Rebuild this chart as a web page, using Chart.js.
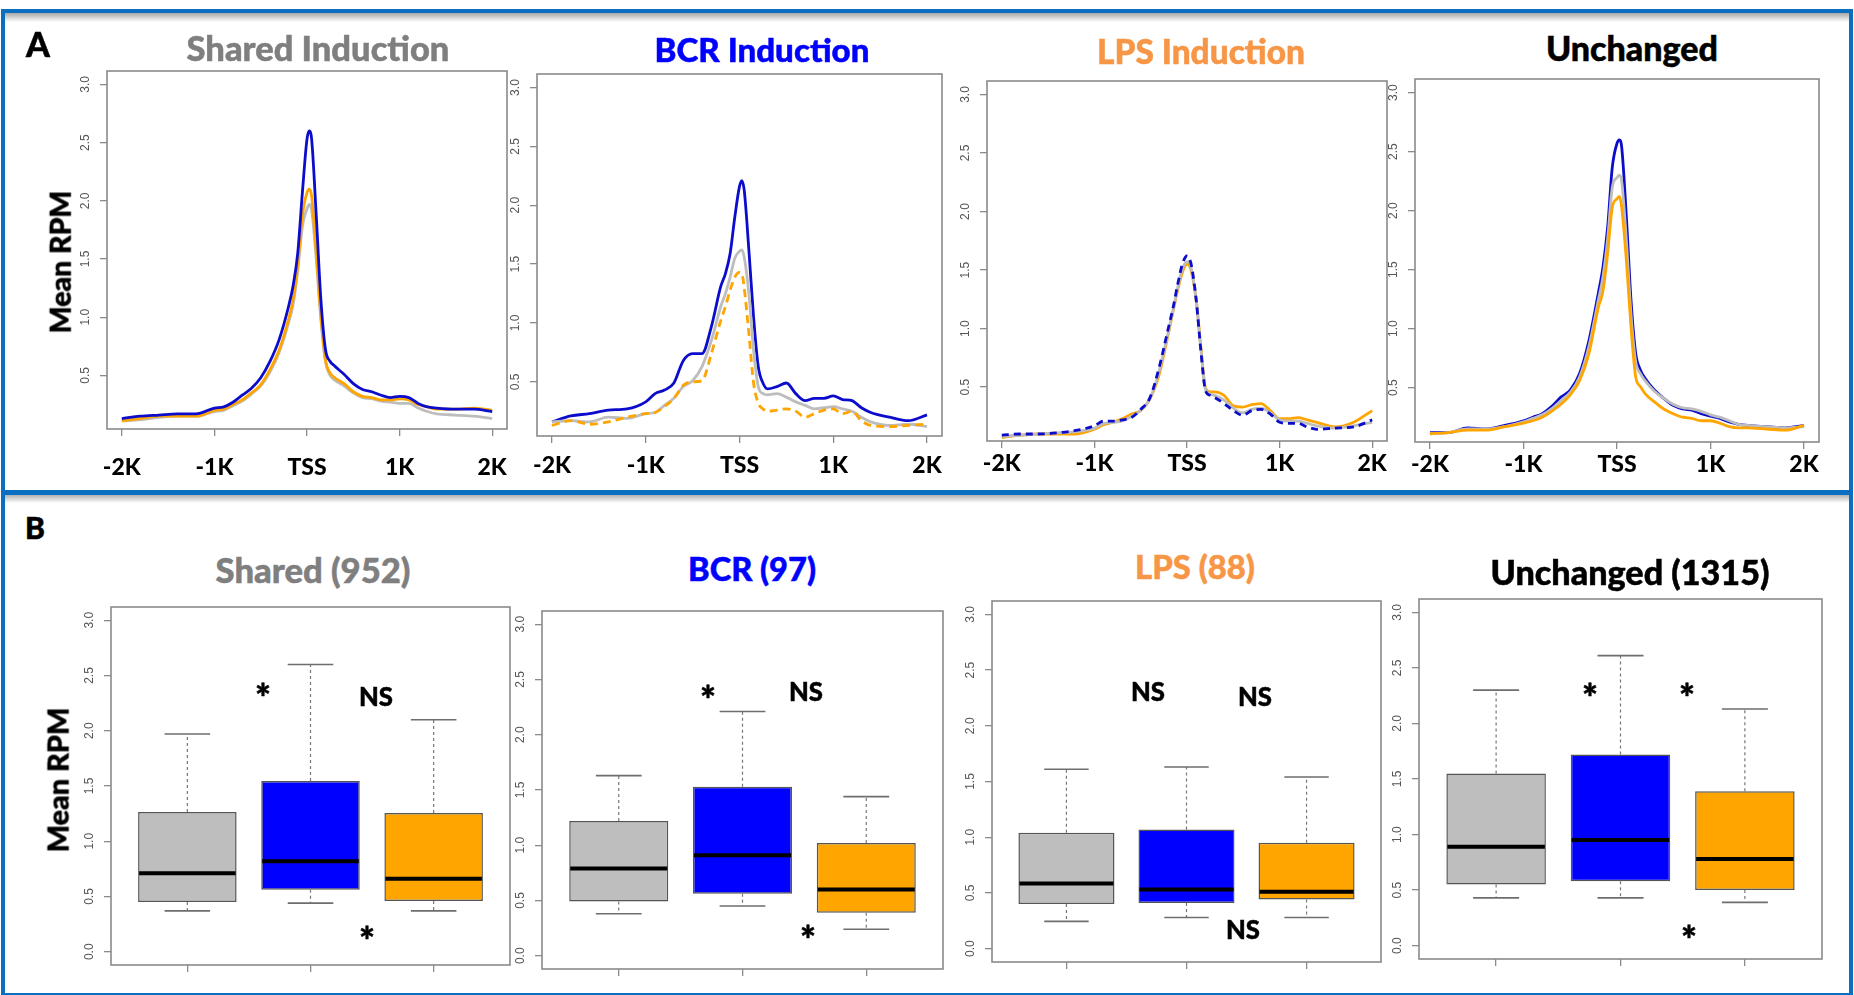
<!DOCTYPE html>
<html><head><meta charset="utf-8">
<script src="https://cdn.jsdelivr.net/npm/chart.js@4"></script>
<style>
body{margin:0;width:1854px;height:995px;background:#fff;overflow:hidden;position:relative;font-family:Lato,sans-serif}
.frame{position:absolute;box-sizing:border-box;border:4px solid #0B6FC1}
.shadow{position:absolute;height:9px;background:linear-gradient(#a8a8a8,rgba(255,255,255,0))}
.t{position:absolute;font-weight:900;white-space:nowrap;line-height:1;transform:translate(-50%,-50%);font-family:Lato,sans-serif;-webkit-text-stroke:0.5px currentColor}
.rot{transform:translate(-50%,-50%) rotate(-90deg)}
canvas{position:absolute}
</style></head><body>
<div class="shadow" style="left:5px;top:13px;width:1844px"></div>
<div class="shadow" style="left:5px;top:494px;width:1844px"></div>
<div class="frame" style="left:1px;top:9px;width:1852px;height:486px"></div>
<div class="frame" style="left:1px;top:490px;width:1852px;height:507px"></div>
<script>
// ---------- DATA ----------
const POS = [-2000,-1800,-1600,-1400,-1200,-1000,-900,-800,-700,-600,-500,-400,-300,-200,-150,-100,-50,0,25,50,100,150,200,250,300,400,500,600,700,800,900,1000,1100,1200,1300,1400,1600,1800,2000];
const X_TICKS = [-2000,-1000,0,1000,2000];
const X_LABELS = ['-2K','-1K','TSS','1K','2K'];
const Y_TICKS_A = [0.5,1.0,1.5,2.0,2.5,3.0];
const Y_TICKS_B = [0.0,0.5,1.0,1.5,2.0,2.5,3.0];

const SHARED_BLUE   = [0.13,0.15,0.16,0.17,0.17,0.22,0.23,0.27,0.33,0.39,0.48,0.62,0.81,1.09,1.27,1.55,2.07,2.53,2.60,2.53,1.87,1.15,0.72,0.62,0.58,0.51,0.43,0.38,0.36,0.33,0.31,0.32,0.31,0.26,0.23,0.22,0.21,0.21,0.19];
const SHARED_ORANGE = [0.11,0.13,0.15,0.15,0.15,0.20,0.21,0.25,0.29,0.35,0.42,0.55,0.72,0.98,1.15,1.44,1.87,2.07,2.10,2.04,1.55,1.01,0.63,0.52,0.48,0.43,0.36,0.32,0.31,0.29,0.29,0.30,0.29,0.25,0.23,0.21,0.21,0.22,0.20];
const SHARED_GRAY   = [0.11,0.12,0.14,0.15,0.15,0.19,0.20,0.24,0.28,0.34,0.41,0.53,0.70,0.95,1.11,1.40,1.78,1.93,1.97,1.92,1.50,0.98,0.62,0.50,0.46,0.41,0.35,0.31,0.30,0.28,0.27,0.26,0.26,0.22,0.19,0.17,0.16,0.15,0.13];

const BCR_BLUE   = [0.16,0.21,0.23,0.26,0.27,0.33,0.40,0.43,0.49,0.68,0.74,0.74,0.97,1.31,1.42,1.59,1.90,2.16,2.21,2.13,1.62,1.05,0.63,0.49,0.44,0.46,0.49,0.40,0.34,0.36,0.36,0.38,0.35,0.34,0.28,0.24,0.20,0.17,0.22];
const BCR_GRAY   = [0.16,0.17,0.16,0.20,0.19,0.23,0.24,0.30,0.36,0.46,0.51,0.63,0.85,1.14,1.25,1.39,1.55,1.61,1.62,1.56,1.25,0.77,0.46,0.40,0.39,0.40,0.37,0.33,0.30,0.27,0.28,0.29,0.27,0.25,0.20,0.16,0.13,0.14,0.12];
const BCR_ORANGE = [0.13,0.17,0.14,0.16,0.20,0.23,0.24,0.29,0.36,0.47,0.50,0.51,0.74,1.02,1.14,1.28,1.39,1.43,1.42,1.30,0.91,0.49,0.32,0.27,0.25,0.26,0.27,0.25,0.20,0.23,0.26,0.27,0.23,0.25,0.17,0.13,0.12,0.13,0.14];

const LPS_BLUE   = [0.09,0.10,0.10,0.11,0.13,0.17,0.21,0.21,0.22,0.24,0.31,0.41,0.67,1.01,1.18,1.38,1.55,1.62,1.60,1.53,1.24,0.81,0.47,0.43,0.41,0.36,0.30,0.26,0.30,0.31,0.27,0.20,0.19,0.19,0.16,0.14,0.15,0.16,0.22];
const LPS_GRAY   = [0.08,0.09,0.10,0.11,0.12,0.15,0.19,0.20,0.21,0.25,0.30,0.40,0.64,0.98,1.16,1.35,1.51,1.57,1.57,1.50,1.24,0.82,0.48,0.44,0.43,0.39,0.32,0.28,0.31,0.32,0.28,0.22,0.21,0.21,0.19,0.17,0.15,0.17,0.20];
const LPS_ORANGE = [0.07,0.09,0.10,0.10,0.10,0.14,0.18,0.20,0.23,0.27,0.30,0.40,0.61,0.96,1.15,1.33,1.48,1.55,1.54,1.48,1.24,0.84,0.49,0.46,0.46,0.43,0.34,0.33,0.35,0.36,0.30,0.23,0.23,0.24,0.22,0.20,0.16,0.20,0.30];

const UNCH_BLUE   = [0.12,0.12,0.16,0.15,0.18,0.22,0.25,0.28,0.34,0.42,0.48,0.62,0.90,1.30,1.52,1.86,2.37,2.57,2.60,2.54,1.95,1.24,0.79,0.65,0.58,0.48,0.41,0.35,0.32,0.31,0.28,0.26,0.24,0.21,0.19,0.18,0.17,0.16,0.18];
const UNCH_GRAY   = [0.11,0.12,0.15,0.15,0.17,0.21,0.24,0.27,0.32,0.39,0.46,0.59,0.85,1.24,1.44,1.76,2.20,2.28,2.30,2.25,1.75,1.12,0.72,0.62,0.56,0.47,0.41,0.36,0.33,0.32,0.30,0.27,0.25,0.22,0.19,0.18,0.17,0.16,0.17];
const UNCH_ORANGE = [0.11,0.12,0.14,0.14,0.17,0.20,0.22,0.25,0.30,0.36,0.44,0.56,0.79,1.18,1.32,1.64,2.03,2.10,2.12,2.03,1.58,1.01,0.59,0.51,0.45,0.38,0.32,0.28,0.25,0.24,0.22,0.22,0.20,0.17,0.16,0.16,0.15,0.14,0.18];

// box plots: order [gray, blue, orange]
const SHARED_WHI = [1.97,2.60,2.10], SHARED_Q3 = [1.265,1.545,1.255], SHARED_MED = [0.71,0.82,0.66], SHARED_Q1 = [0.45,0.56,0.46], SHARED_WLO = [0.37,0.44,0.37];
const BCR_WHI = [1.63,2.21,1.44], BCR_Q3 = [1.22,1.53,1.02], BCR_MED = [0.79,0.91,0.60], BCR_Q1 = [0.49,0.56,0.39], BCR_WLO = [0.38,0.45,0.24];
const LPS_WHI = [1.61,1.63,1.54], LPS_Q3 = [1.04,1.07,0.95], LPS_MED = [0.585,0.53,0.51], LPS_Q1 = [0.40,0.41,0.44], LPS_WLO = [0.245,0.28,0.28];
const UNCH_WHI = [2.30,2.61,2.13], UNCH_Q3 = [1.55,1.72,1.39], UNCH_MED = [0.89,0.95,0.78], UNCH_Q1 = [0.55,0.58,0.50], UNCH_WLO = [0.43,0.43,0.39];

// ---------- STYLE ----------
const C_BLUE_LINE = '#0c0ccc', C_GRAY_LINE = '#bdbdbd', C_ORANGE_LINE = '#ffa500';
const BOX_FILL = ['#bebebe','#0000ff','#ffa500'];
const AXIS_GRAY = '#8a8a8a';

const framePlugin = {id:'framebox', afterDraw(c){const a=c.chartArea,ctx=c.ctx;ctx.save();ctx.strokeStyle=AXIS_GRAY;ctx.lineWidth=1.6;ctx.strokeRect(a.left,a.top,a.right-a.left,a.bottom-a.top);ctx.restore();}};
const yLabelPlugin = {id:'ylabels', afterDraw(c){const s=c.scales.y,ctx=c.ctx;ctx.save();ctx.fillStyle='#555';ctx.font='12px "Liberation Sans", Arial';ctx.textAlign='center';ctx.textBaseline='middle';
  s.ticks.forEach(t=>{const y=s.getPixelForValue(t.value);ctx.save();ctx.translate(c.chartArea.left-21,y);ctx.rotate(-Math.PI/2);ctx.fillText(Number(t.value).toFixed(1),0,0);ctx.restore();});ctx.restore();}};

const PL=60, PT=10, PR=30;
function makeCanvas(box, bottomH){
  const cv=document.createElement('canvas');
  const w=(box[2]-box[0])+PL+PR, h=(box[3]-box[1])+PT+bottomH;
  cv.width=w; cv.height=h; cv.style.width=w+'px'; cv.style.height=h+'px';
  cv.style.left=(box[0]-PL)+'px'; cv.style.top=(box[1]-PT)+'px';
  document.body.appendChild(cv); return cv;
}

function lineChart(box, series, pad){
  const cv=makeCanvas(box,60);
  new Chart(cv,{type:'line',
    data:{datasets:series.map(s=>({data:POS.map((x,i)=>({x:x,y:s.v[i]})),borderColor:s.c,borderWidth:2.8,borderDash:s.d||[],pointRadius:0,cubicInterpolationMode:'monotone',fill:false}))},
    options:{responsive:false,animation:false,devicePixelRatio:1,
      layout:{padding:{left:0,top:PT,right:PR,bottom:0}},
      plugins:{legend:{display:false},tooltip:{enabled:false}},
      scales:{
        x:{type:'linear',min:-2160,max:2160,offset:false,afterBuildTicks:s=>{s.ticks=X_TICKS.map(v=>({value:v}));},
          ticks:{callback:(v,i)=>X_LABELS[i],font:{family:'Lato',weight:900,size:23},color:'#000',padding:pad,maxRotation:0,autoSkip:false},
          grid:{drawOnChartArea:false,offset:false,tickLength:7,color:AXIS_GRAY,lineWidth:1.3},border:{display:false},afterFit:s=>{s.height=60;}},
        y:{type:'linear',min:0.04,max:3.115,afterBuildTicks:s=>{s.ticks=Y_TICKS_A.map(v=>({value:v}));},
          ticks:{display:false},grid:{drawOnChartArea:false,tickLength:7,color:AXIS_GRAY,lineWidth:1.3},border:{display:false},afterFit:s=>{s.width=PL;}}
      }},
    plugins:[framePlugin,yLabelPlugin]});
}

function boxChart(box, whi, q3, med, q1, wlo){
  const cv=makeCanvas(box,30);
  const whisk={id:'whisk',afterDatasetsDraw(c){const xs=c.scales.x,ys=c.scales.y,ctx=c.ctx;ctx.save();
    for(let i=0;i<3;i++){const x=xs.getPixelForValue(i+1);const cap=xs.getPixelForValue(i+1+0.185)-x;const half=xs.getPixelForValue(i+1+0.4)-x;
      ctx.setLineDash([3,3]);ctx.strokeStyle='#777';ctx.lineWidth=1.2;
      ctx.beginPath();ctx.moveTo(x,ys.getPixelForValue(q3[i]));ctx.lineTo(x,ys.getPixelForValue(whi[i]));
      ctx.moveTo(x,ys.getPixelForValue(q1[i]));ctx.lineTo(x,ys.getPixelForValue(wlo[i]));ctx.stroke();
      ctx.setLineDash([]);ctx.strokeStyle='#6e6e6e';ctx.lineWidth=1.6;
      ctx.beginPath();ctx.moveTo(x-cap,ys.getPixelForValue(whi[i]));ctx.lineTo(x+cap,ys.getPixelForValue(whi[i]));
      ctx.moveTo(x-cap,ys.getPixelForValue(wlo[i]));ctx.lineTo(x+cap,ys.getPixelForValue(wlo[i]));ctx.stroke();
      ctx.strokeStyle='#000';ctx.lineWidth=4;ctx.beginPath();ctx.moveTo(x-half+1,ys.getPixelForValue(med[i]));ctx.lineTo(x+half-1,ys.getPixelForValue(med[i]));ctx.stroke();}
    ctx.restore();}};
  new Chart(cv,{type:'bar',
    data:{datasets:[{data:[0,1,2].map(i=>({x:i+1,y:[q1[i],q3[i]]})),backgroundColor:BOX_FILL,borderColor:'#555',borderWidth:1.5,borderSkipped:false,barPercentage:0.8,categoryPercentage:1}]},
    options:{responsive:false,animation:false,devicePixelRatio:1,
      layout:{padding:{left:0,top:PT,right:PR,bottom:0}},
      plugins:{legend:{display:false},tooltip:{enabled:false}},
      scales:{
        x:{type:'linear',min:0.38,max:3.62,offset:false,afterBuildTicks:s=>{s.ticks=[1,2,3].map(v=>({value:v}));},
          ticks:{display:false},grid:{drawOnChartArea:false,offset:false,tickLength:7,color:AXIS_GRAY,lineWidth:1.3},border:{display:false},afterFit:s=>{s.height=30;}},
        y:{type:'linear',min:-0.12,max:3.12,afterBuildTicks:s=>{s.ticks=Y_TICKS_B.map(v=>({value:v}));},
          ticks:{display:false},grid:{drawOnChartArea:false,tickLength:7,color:AXIS_GRAY,lineWidth:1.3},border:{display:false},afterFit:s=>{s.width=PL;}}
      }},
    plugins:[framePlugin,yLabelPlugin,whisk]});
}

// ---------- PANELS ----------
lineChart([107,71,507,429],[{v:SHARED_BLUE,c:C_BLUE_LINE},{v:SHARED_ORANGE,c:C_ORANGE_LINE},{v:SHARED_GRAY,c:C_GRAY_LINE}],18);
lineChart([537,74,942,436],[{v:BCR_ORANGE,c:C_ORANGE_LINE,d:[8,5]},{v:BCR_GRAY,c:C_GRAY_LINE},{v:BCR_BLUE,c:C_BLUE_LINE}],9);
lineChart([987,81,1387,441],[{v:LPS_BLUE,c:C_BLUE_LINE,d:[7,5]},{v:LPS_GRAY,c:C_GRAY_LINE},{v:LPS_ORANGE,c:C_ORANGE_LINE}],2);
lineChart([1415,79,1819,442],[{v:UNCH_ORANGE,c:C_ORANGE_LINE},{v:UNCH_GRAY,c:C_GRAY_LINE},{v:UNCH_BLUE,c:C_BLUE_LINE}],2);

boxChart([111,607,510,965],SHARED_WHI,SHARED_Q3,SHARED_MED,SHARED_Q1,SHARED_WLO);
boxChart([542,611,943,969],BCR_WHI,BCR_Q3,BCR_MED,BCR_Q1,BCR_WLO);
boxChart([992,601,1381,962],LPS_WHI,LPS_Q3,LPS_MED,LPS_Q1,LPS_WLO);
boxChart([1419,599,1822,959],UNCH_WHI,UNCH_Q3,UNCH_MED,UNCH_Q1,UNCH_WLO);

// ---------- TEXT ----------
const mctx=document.createElement('canvas').getContext('2d');
function addText(txt,cx,cy,w,color,rot,dy,fixedSize){
  mctx.font='900 100px Lato';const m=mctx.measureText(txt).width;const size=fixedSize||100*w/m;
  const d=document.createElement('div');d.className='t'+(rot?' rot':'');d.textContent=txt;
  d.style.fontSize=size.toFixed(2)+'px';d.style.color=color;d.style.left=cx+'px';d.style.top=(cy+(dy||0)*size)+'px';
  document.body.appendChild(d);
}
addText('A',38,44,0,'#000',false,0,34);
addText('B',35,527,0,'#000',false,0,30);
addText('Shared Induction',318,48,263,'#7f7f7f');
addText('BCR Induction',762,50,215,'#0000ff');
addText('LPS Induction',1201,52,208,'#f79646');
addText('Unchanged',1632,48,172,'#000');
addText('Shared (952)',313,570,195,'#7f7f7f');
addText('BCR (97)',752,569,128,'#0000ff');
addText('LPS (88)',1195,567,120,'#f79646');
addText('Unchanged (1315)',1630,572,279,'#000');
addText('Mean RPM',60,262,143,'#000',true);
addText('Mean RPM',58,780,145,'#000',true);
const NOTES=[['*',263,690],['NS',376,697],['*',367,933],['*',708,692],['NS',806,692],['*',808,932],['NS',1148,692],['NS',1255,697],['NS',1243,930],['*',1590,690],['*',1687,690],['*',1689,932]];
NOTES.forEach(n=>{ if(n[0]==='NS') addText('NS',n[1],n[2],34,'#000'); else addText('*',n[1],n[2],16,'#000',false,0.2); });
</script>
</body></html>
